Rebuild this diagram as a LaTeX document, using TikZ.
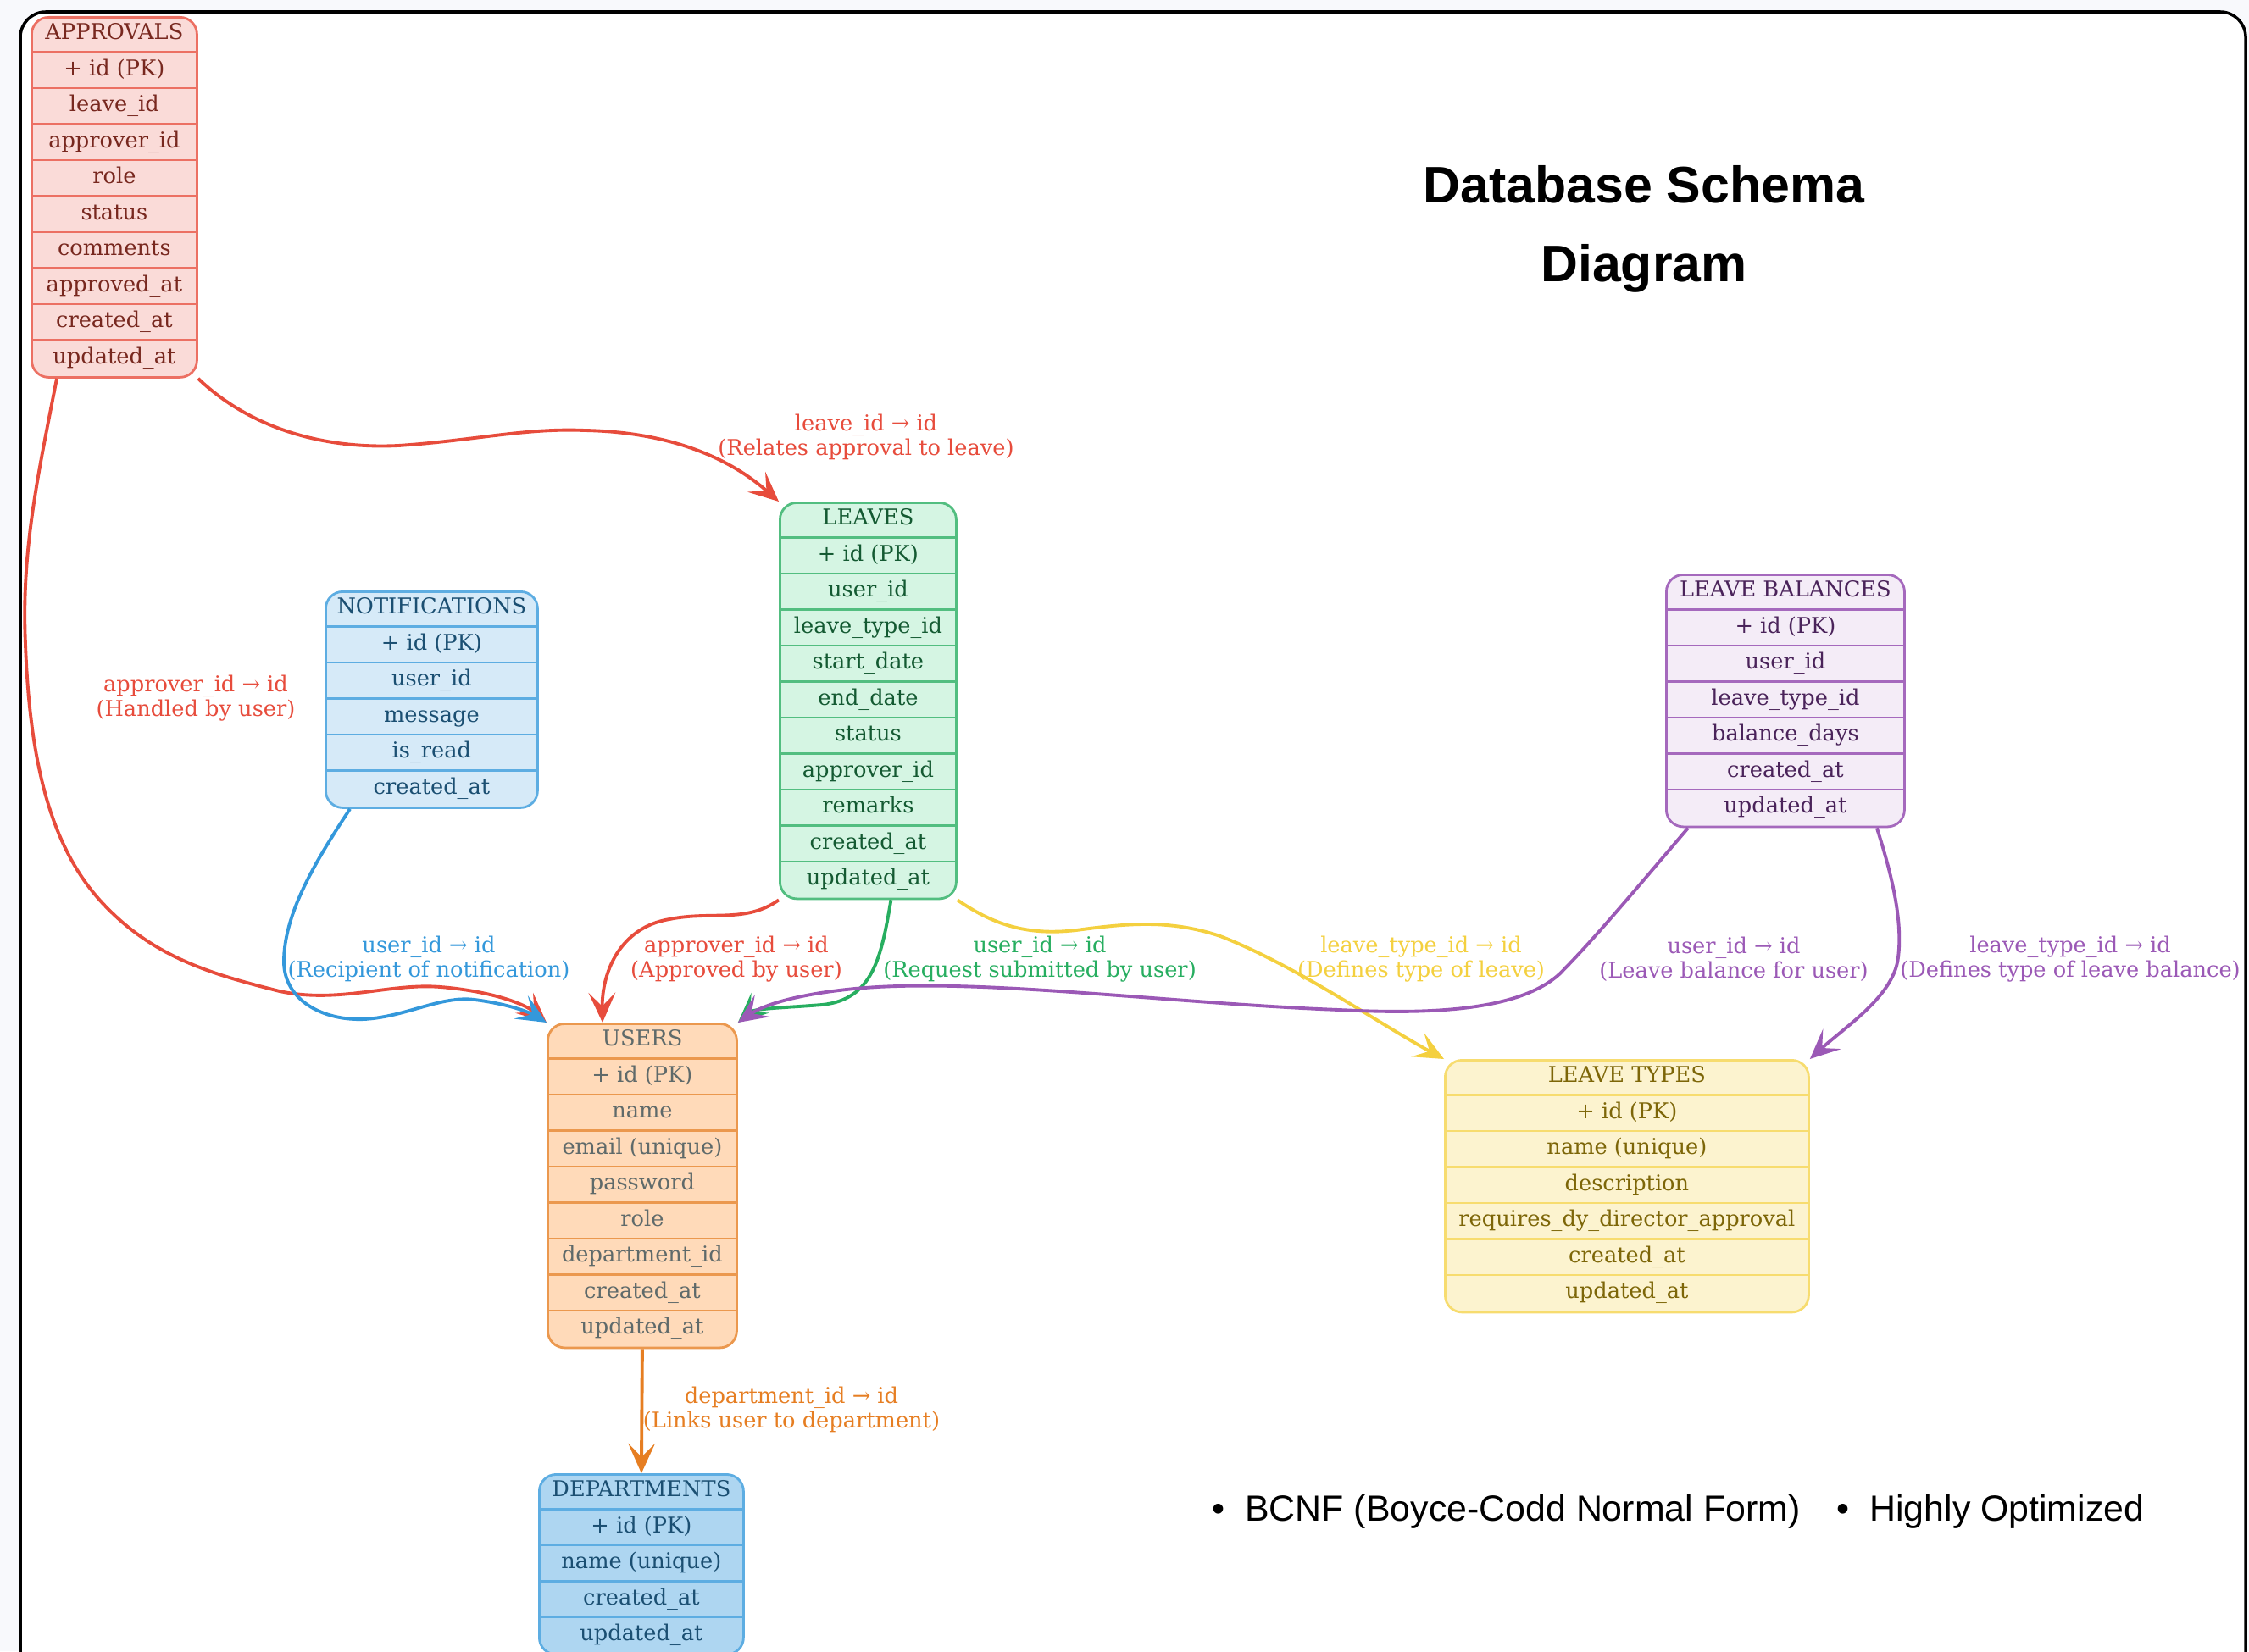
\documentclass[tikz,border=0pt]{standalone}
\usepackage{fontspec}
\setmainfont{DejaVu Serif}
\newfontfamily\titlefont{Liberation Sans}
\usetikzlibrary{arrows.meta,calc,positioning}

% table colours
\definecolor{apfill}{HTML}{FADBD8}\definecolor{apline}{HTML}{EC7063}\definecolor{aptext}{HTML}{78281F}
\definecolor{lvfill}{HTML}{D5F5E3}\definecolor{lvline}{HTML}{52BE80}\definecolor{lvtext}{HTML}{145A32}
\definecolor{ntfill}{HTML}{D6EAF8}\definecolor{ntline}{HTML}{5DADE2}\definecolor{nttext}{HTML}{1B4F72}
\definecolor{lbfill}{HTML}{F4ECF7}\definecolor{lbline}{HTML}{A569BD}\definecolor{lbtext}{HTML}{4A235A}
\definecolor{usfill}{HTML}{FFDAB9}\definecolor{usline}{HTML}{EB984E}\definecolor{ustext}{HTML}{5F6A6A}
\definecolor{ltfill}{HTML}{FCF3CF}\definecolor{ltline}{HTML}{F7DC6F}\definecolor{lttext}{HTML}{7D6608}
\definecolor{dpfill}{HTML}{AED6F1}\definecolor{dpline}{HTML}{5DADE2}\definecolor{dptext}{HTML}{1B4F72}
% edge colours
\definecolor{cred}{HTML}{E74C3C}
\definecolor{cblue}{HTML}{3498DB}
\definecolor{cgreen}{HTML}{27AE60}
\definecolor{cyellow}{HTML}{F4D03F}
\definecolor{cpurple}{HTML}{9B59B6}
\definecolor{corange}{HTML}{E67E22}
\definecolor{pagebg}{HTML}{F8F9FC}

\newcommand{\rowh}{0.425}
% #1 name, #2 top-left corner, #3 width, #4 number of rows, #5 colour prefix, #6 rows
\newcommand{\dbtable}[6]{%
  \node[tablebox, draw=#5line, fill=#5fill, minimum width=#3cm, minimum height=#4*\rowh cm] (#1) at (#2) {};
  \foreach \field [count=\i] in {#6} {
    \node[field, text=#5text] (#1-\i) at ($(#1.north)+(0,{(0.5-\i)*\rowh})$) {\field};
    \ifnum\i>1
      \draw[sepline, draw=#5line] ($(#1.north west)+(0,{(1-\i)*\rowh})$) -- ($(#1.north east)+(0,{(1-\i)*\rowh})$);
    \fi
  }
}

\begin{document}
\begin{tikzpicture}
    % Define styles
    \tikzset{
        tablebox/.style={rectangle, rounded corners=0.2cm, anchor=north west, inner sep=0pt, line width=0.8pt},
        field/.style={inner sep=0pt, font=\fontsize{7.3}{8.6}\selectfont, text height=5.4pt, text depth=1.7pt},
        sepline/.style={line width=0.8pt},
        fk/.style={-{Stealth[length=10pt, width=9pt, inset=4.5pt]}, line width=1.1pt},
        elabel/.style={align=center, inner sep=0pt, font=\fontsize{7.3}{8.2}\selectfont},
        title/.style={align=center, font=\titlefont\bfseries\fontsize{17.3}{26.5}\selectfont},
        note/.style={anchor=west, inner sep=0pt, font=\titlefont\fontsize{12.2}{14}\selectfont}
    }
    \useasboundingbox (0,0) rectangle (26.54,-19.49);
    \fill[pagebg] (0,0) rectangle (26.54,-19.49);
    % Outer frame
    \draw[line width=1pt, fill=white, rounded corners=0.3cm] (0.24,-0.14) rectangle (26.50,-19.80);

    % Tables
    \dbtable{approvals}{0.36,-0.19}{1.95}{10}{ap}{APPROVALS, + id (PK), leave\_id, approver\_id, role, status, comments, approved\_at, created\_at, updated\_at}
    \dbtable{leaves}{9.19,-5.92}{2.08}{11}{lv}{LEAVES, + id (PK), user\_id, leave\_type\_id, start\_date, end\_date, status, approver\_id, remarks, created\_at, updated\_at}
    \dbtable{notifications}{3.83,-6.97}{2.50}{6}{nt}{NOTIFICATIONS, + id (PK), user\_id, message, is\_read, created\_at}
    \dbtable{leavebal}{19.65,-6.77}{2.81}{7}{lb}{LEAVE BALANCES, + id (PK), user\_id, leave\_type\_id, balance\_days, created\_at, updated\_at}
    \dbtable{users}{6.45,-12.07}{2.23}{9}{us}{USERS, + id (PK), name, email (unique), password, role, department\_id, created\_at, updated\_at}
    \dbtable{leavetypes}{17.04,-12.50}{4.29}{7}{lt}{LEAVE TYPES, + id (PK), name (unique), description, requires\_dy\_director\_approval, created\_at, updated\_at}
    \dbtable{departments}{6.35,-17.39}{2.41}{5}{dp}{DEPARTMENTS, + id (PK), name (unique), created\_at, updated\_at}

    % Relations
    \draw[fk, cred] (approvals.south east) .. controls (3.0,-5.1) and (3.9,-5.3) .. (4.7,-5.26)
        .. controls (5.6,-5.2) and (6.2,-5.05) .. (6.9,-5.08)
        .. controls (7.9,-5.1) and (8.6,-5.4) .. (leaves.north west);
    \draw[fk, cred] ([xshift=0.31cm]approvals.south west) .. controls (0.45,-5.6) and (0.25,-6.5) .. (0.3,-7.6)
        .. controls (0.35,-9.0) and (0.6,-10.0) .. (1.2,-10.65)
        .. controls (1.8,-11.3) and (2.5,-11.5) .. (3.3,-11.7)
        .. controls (4.0,-11.85) and (4.6,-11.6) .. (5.2,-11.65)
        .. controls (5.8,-11.7) and (6.2,-11.85) .. (users.north west);
    \draw[fk, cblue] ([xshift=0.3cm]notifications.south west) .. controls (3.7,-10.2) and (3.35,-10.8) .. (3.35,-11.35)
        .. controls (3.35,-11.8) and (3.8,-12.05) .. (4.3,-12.03)
        .. controls (4.8,-12.0) and (5.2,-11.75) .. (5.6,-11.8)
        .. controls (6.0,-11.85) and (6.25,-11.95) .. (users.north west);
    \draw[fk, cred] (leaves.south west) .. controls (8.8,-10.9) and (8.4,-10.75) .. (7.9,-10.85)
        .. controls (7.3,-10.95) and (7.1,-11.5) .. ([xshift=0.66cm]users.north west);
    \draw[fk, cgreen] ([xshift=0.27cm]leaves.south) .. controls (10.4,-11.3) and (10.3,-11.8) .. (9.7,-11.86)
        .. controls (9.2,-11.9) and (8.9,-11.9) .. (users.north east);
    \draw[fk, cyellow] (leaves.south east) .. controls (11.7,-10.9) and (12.1,-11.05) .. (12.7,-10.98)
        .. controls (13.3,-10.9) and (13.8,-10.85) .. (14.4,-11.05)
        .. controls (15.3,-11.4) and (16.3,-12.1) .. (leavetypes.north west);
    \draw[fk, cpurple] ([xshift=0.27cm]leavebal.south west) .. controls (19.3,-10.5) and (18.8,-11.1) .. (18.4,-11.5)
        .. controls (17.9,-11.95) and (16.8,-11.97) .. (15.8,-11.92)
        .. controls (14.0,-11.85) and (12.0,-11.6) .. (10.6,-11.64)
        .. controls (9.8,-11.66) and (9.1,-11.8) .. (users.north east);
    \draw[fk, cpurple] ([xshift=-0.34cm]leavebal.south east) .. controls (22.35,-10.4) and (22.45,-10.9) .. (22.4,-11.3)
        .. controls (22.35,-11.75) and (21.8,-12.1) .. (leavetypes.north east);
    \draw[fk, corange] (users.south) -- (departments.north);

    % Relation labels
    \node[elabel, text=cred] (lbl-leave) at (10.22,-5.16) {leave\_id → id\\(Relates approval to leave)};
    \node[elabel, text=cred] (lbl-handled) at (2.31,-8.24) {approver\_id → id\\(Handled by user)};
    \node[elabel, text=cblue] (lbl-notif) at (5.06,-11.32) {user\_id → id\\(Recipient of notification)};
    \node[elabel, text=cred] (lbl-approved) at (8.69,-11.32) {approver\_id → id\\(Approved by user)};
    \node[elabel, text=cgreen] (lbl-request) at (12.27,-11.32) {user\_id → id\\(Request submitted by user)};
    \node[elabel, text=cyellow] (lbl-type) at (16.77,-11.32) {leave\_type\_id → id\\(Defines type of leave)};
    \node[elabel, text=cpurple] (lbl-balance) at (20.46,-11.32) {user\_id → id\\(Leave balance for user)};
    \node[elabel, text=cpurple] (lbl-baltype) at (24.43,-11.32) {leave\_type\_id → id\\(Defines type of leave balance)};
    \node[elabel, text=corange] (lbl-dept) at (9.34,-16.64) {department\_id → id\\(Links user to department)};

    % Title and notes
    \node[title] (title) at (19.40,-2.70) {Database Schema\\Diagram};
    \node[note] (bcnf) at (14.30,-17.84) {\textbullet\hspace{0.55em}BCNF (Boyce-Codd Normal Form)};
    \node[note] (optim) at (21.67,-17.84) {\textbullet\hspace{0.55em}Highly Optimized};
\end{tikzpicture}
\end{document}
